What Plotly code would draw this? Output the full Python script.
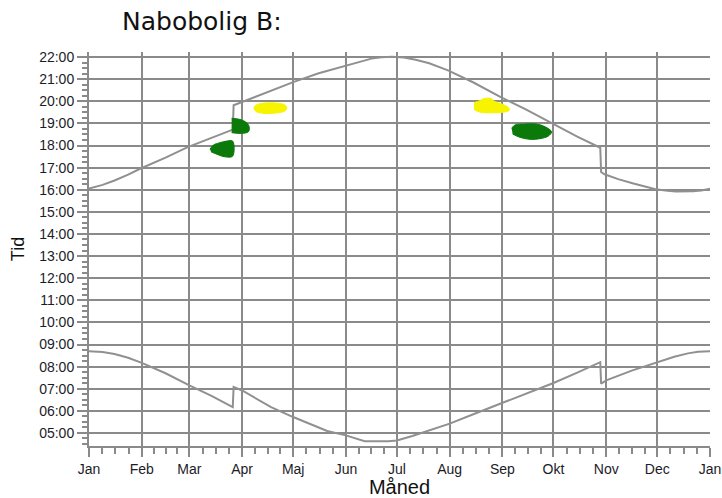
import plotly.graph_objects as go

# ---- axis categories ----
month_starts = [0, 31, 59, 90, 120, 151, 181, 212, 243, 273, 304, 334, 365]
month_labels = ["Jan", "Feb", "Mar", "Apr", "Maj", "Jun", "Jul", "Aug", "Sep", "Okt", "Nov", "Dec", "Jan"]
hour_vals = list(range(5, 23))
hour_labels = ["%02d:00" % h for h in hour_vals]

# ---- sunset curve (day of year, hour) ----
sunset_day = [0, 8, 15, 23, 30, 45, 58, 72, 84.5, 85, 90, 105, 120, 135, 151, 160, 166, 172, 178,
              185, 192, 200, 211, 226, 242, 257, 272, 287, 300.5, 301, 303, 311, 320, 333, 340,
              345, 355, 360, 365]
sunset_hour = [16.05, 16.22, 16.42, 16.68, 16.95, 17.45, 17.93, 18.35, 18.72, 19.82, 19.97, 20.42,
               20.87, 21.27, 21.62, 21.82, 21.93, 21.99, 22.01, 21.98, 21.88, 21.72, 21.40, 20.85,
               20.19, 19.62, 19.02, 18.40, 17.90, 16.80, 16.70, 16.48, 16.28, 16.02, 15.95, 15.92,
               15.93, 15.97, 16.05]

# ---- sunrise curve (day of year, hour) ----
sunrise_day = [0, 8, 15, 23, 31, 45, 59, 72, 84.5, 85, 90, 107, 120, 140, 151, 157, 162, 176, 181,
               190, 200, 212, 227, 243, 258, 273, 287, 300.5, 301, 304, 319, 334, 344, 352, 358, 365]
sunrise_hour = [8.70, 8.66, 8.57, 8.40, 8.17, 7.70, 7.15, 6.68, 6.17, 7.08, 6.92, 6.17, 5.72, 5.09,
                4.89, 4.74, 4.63, 4.62, 4.66, 4.86, 5.12, 5.42, 5.88, 6.35, 6.80, 7.26, 7.73, 8.20,
                7.23, 7.38, 7.82, 8.20, 8.45, 8.60, 8.67, 8.70]

# ---- observation blobs (day of year, hour) ----
yellow_spring_day = [97, 98, 101, 106, 111, 115, 116.3, 115, 111, 106, 101, 98, 97]
yellow_spring_hour = [19.69, 19.82, 19.90, 19.93, 19.91, 19.84, 19.70, 19.56, 19.48, 19.45, 19.47, 19.55, 19.69]

green_spring_a_day = [83.85, 88.75, 92.67, 94.23, 93.65, 89.73, 83.85]
green_spring_a_hour = [19.23, 19.18, 19.03, 18.82, 18.62, 18.55, 18.58]

green_spring_b_day = [71.12, 73.08, 77.0, 80.92, 84.44, 84.44, 79.94, 75.04, 71.7]
green_spring_b_hour = [17.83, 18.02, 18.13, 18.20, 18.20, 17.52, 17.49, 17.61, 17.72]

yellow_autumn_day = [226.3, 229.8, 231.8, 236.7, 237.6, 241.6, 246.5, 247.1, 243.6, 237.6, 229.8, 226.3]
yellow_autumn_hour = [19.94, 20.03, 20.12, 20.12, 20.03, 19.91, 19.72, 19.60, 19.51, 19.48, 19.51, 19.63]

green_autumn_day = [248.4, 250.4, 255.3, 263.1, 268.0, 271.9, 270.0, 265.1, 259.2, 253.3, 249.0]
green_autumn_hour = [18.78, 18.93, 18.97, 18.97, 18.85, 18.62, 18.43, 18.31, 18.28, 18.37, 18.52]

GRAY = "#8a8a8a"
LINE = "#909090"
GREEN = "#0b7a0b"
YELLOW = "#f8f400"

fig = go.Figure()

# invisible helper trace so the grid-only overlay axis exists
fig.add_trace(go.Scatter(x=[month_starts[0], month_starts[-1]], y=[hour_vals[0], hour_vals[0]],
                         xaxis="x2", mode="lines", line=dict(width=0), opacity=0,
                         hoverinfo="skip", showlegend=False))

for d, h in [(sunset_day, sunset_hour), (sunrise_day, sunrise_hour)]:
    fig.add_trace(go.Scatter(x=d, y=h, mode="lines", line=dict(color=LINE, width=2),
                             hoverinfo="skip", showlegend=False))

blobs = [
    (yellow_spring_day, yellow_spring_hour, YELLOW),
    (green_spring_a_day, green_spring_a_hour, GREEN),
    (green_spring_b_day, green_spring_b_hour, GREEN),
    (yellow_autumn_day, yellow_autumn_hour, YELLOW),
    (green_autumn_day, green_autumn_hour, GREEN),
]
for d, h, c in blobs:
    fig.add_trace(go.Scatter(x=d, y=h, mode="lines", fill="toself", fillcolor=c,
                             line=dict(color=c, width=1, shape="spline"),
                             hoverinfo="skip", showlegend=False))

# quarter-month minor ticks on the time axis
minor_x = []
for a, b in zip(month_starts[:-1], month_starts[1:]):
    for k in (1, 2, 3):
        minor_x.append(a + (b - a) * k / 4)

tickfont = dict(family="Liberation Sans, Arial", size=14, color="#1c1c28")

fig.update_layout(
    width=722, height=498,
    margin=dict(l=89, r=12, t=52, b=52),
    paper_bgcolor="white", plot_bgcolor="white",
    title=dict(text="Nabobolig B:", font=dict(family="DejaVu Sans", size=25, color="#111111"),
               x=122 / 722, xanchor="left", xref="container", y=1 - 21 / 498, yanchor="middle",
               yref="container", automargin=False),
    xaxis=dict(
        range=[0, 365], tickmode="array", tickvals=month_starts, ticktext=month_labels,
        automargin=False, showgrid=False,
        showline=True, linecolor=GRAY, linewidth=2,
        ticks="outside", ticklen=9, tickwidth=2, tickcolor=GRAY,
        minor=dict(tickvals=minor_x, ticks="outside", ticklen=6, tickwidth=1.5, tickcolor=GRAY,
                   showgrid=False),
        tickfont=tickfont, zeroline=False,
        title=dict(text="Måned", font=dict(family="Liberation Sans, Arial", size=20, color="#111111"),
                   standoff=4),
    ),
    xaxis2=dict(
        overlaying="x", range=[0, 365], tickmode="array", tickvals=month_starts[1:-1],
        showticklabels=False, ticks="", showline=False, zeroline=False, automargin=False,
        showgrid=True, gridcolor=GRAY, gridwidth=2, side="bottom",
    ),
    yaxis=dict(
        range=[4.41, 22.23], tickmode="array", tickvals=hour_vals, ticktext=hour_labels,
        automargin=False,
        showgrid=True, gridcolor=GRAY, gridwidth=2,
        showline=True, linecolor=GRAY, linewidth=2,
        ticks="outside", ticklen=10, tickwidth=1.5, tickcolor=GRAY,
        minor=dict(dtick=0.25, tick0=0, ticks="outside", ticklen=5, tickwidth=1.5, tickcolor=GRAY,
                   showgrid=False),
        tickfont=tickfont, zeroline=False,
        title=dict(text="Tid", font=dict(family="Liberation Sans, Arial", size=18, color="#111111"),
                   standoff=10),
    ),
)

fig.write_html("out.html", config={"displayModeBar": False},
               post_script="document.body.style.margin='0';document.body.style.overflow='hidden';")
